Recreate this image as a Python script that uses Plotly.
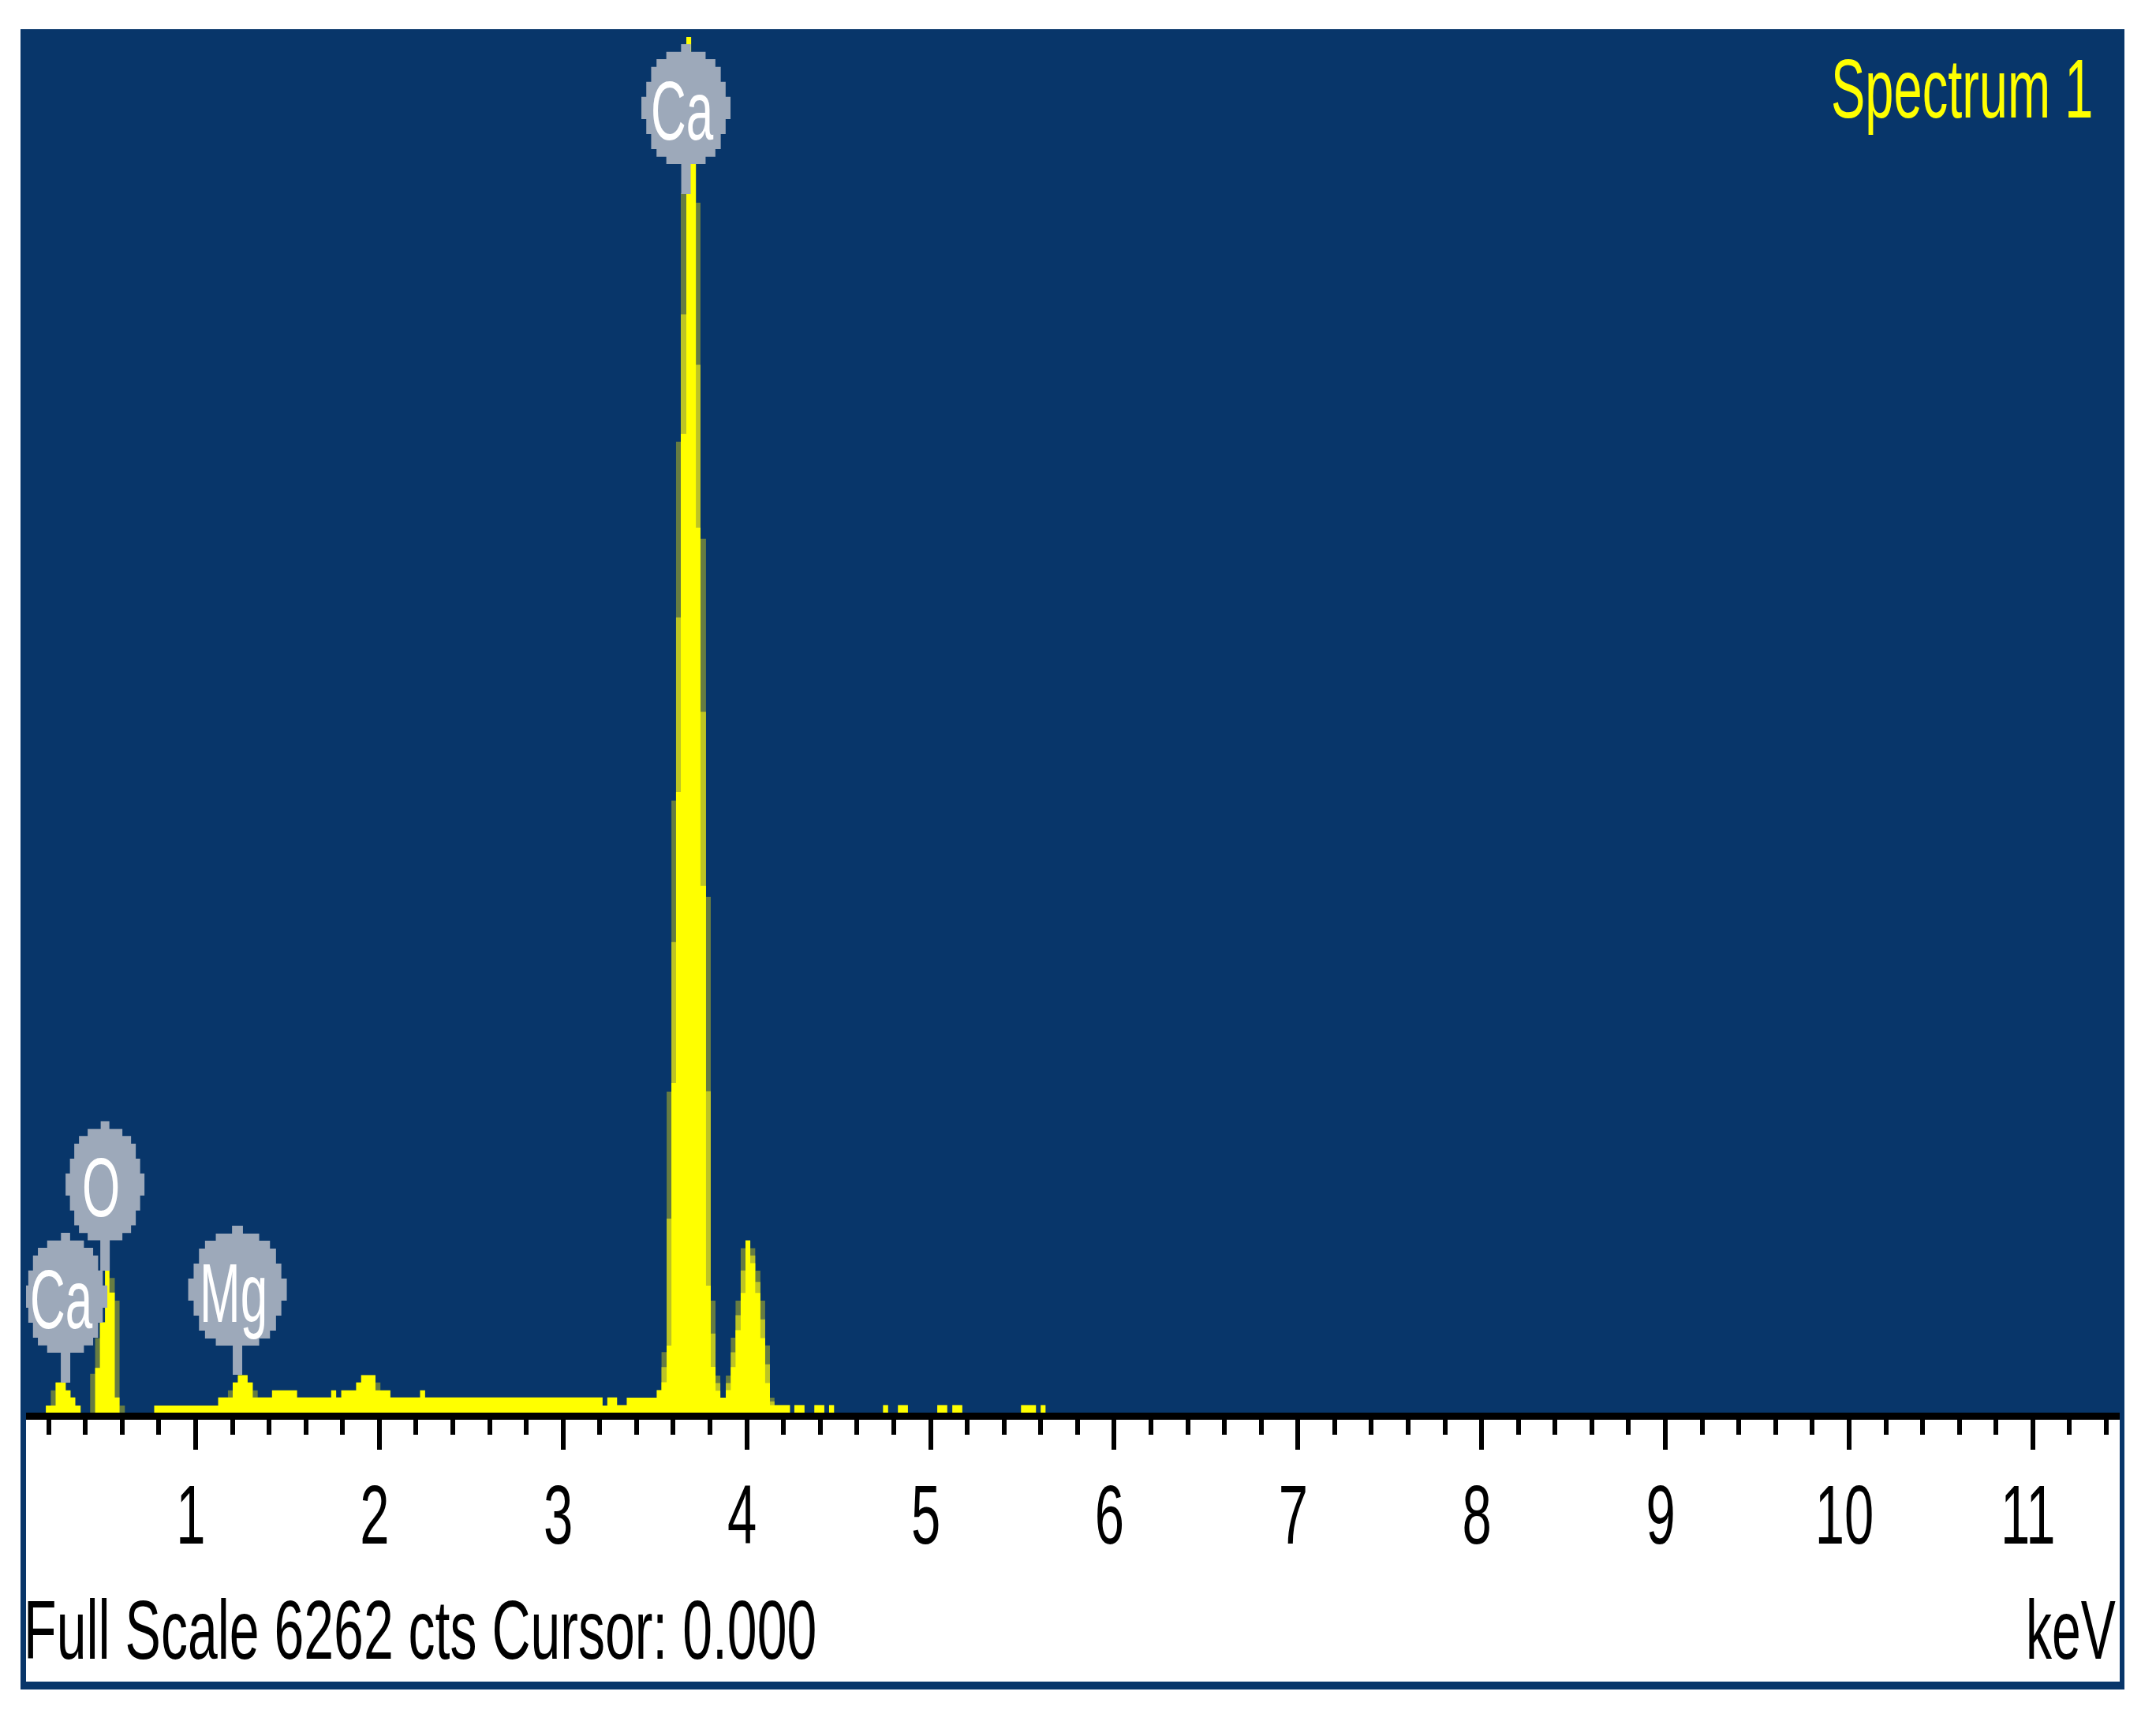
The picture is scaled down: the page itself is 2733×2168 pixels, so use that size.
import plotly.graph_objects as go

# spectrum, left edge of each channel step
kev_left = [0.185, 0.212, 0.238, 0.293, 0.319, 0.345, 0.374, 0.426, 0.453, 0.479,
            0.507, 0.531, 0.560, 0.586, 0.615, 0.775, 1.123, 1.176, 1.202, 1.230,
            1.283, 1.311, 1.338, 1.416, 1.552, 1.738, 1.765, 1.793, 1.874, 1.901,
            1.979, 2.006, 2.060, 2.222, 2.249, 3.215, 3.241, 3.294, 3.347, 3.510,
            3.536, 3.564, 3.590, 3.615, 3.641, 3.671, 3.697, 3.723, 3.748, 3.778,
            3.804, 3.830, 3.856, 3.886, 3.913, 3.939, 3.967, 3.993, 4.019, 4.046,
            4.074, 4.100, 4.126, 4.151, 4.235, 4.259, 4.314, 4.368, 4.422, 4.448,
            4.475, 4.742, 4.769, 4.823, 4.877, 5.037, 5.091, 5.119, 5.173, 5.493,
            5.574, 5.600, 5.626]
cts = [32, 32, 137, 101, 69, 32, 0, 0, 204, 411,
       646, 547, 69, 0, 0, 32, 69, 69, 137, 171,
       137, 69, 69, 101, 69, 101, 69, 101, 137, 171,
       101, 101, 69, 101, 69, 32, 69, 34, 68, 102,
       138, 305, 1501, 2826, 4456, 6262, 5684, 4029, 2399, 578,
       208, 100, 68, 102, 207, 375, 545, 784, 680, 545,
       339, 135, 34, 34, 0, 34, 0, 34, 0, 34,
       0, 34, 0, 34, 0, 34, 0, 34, 0, 34,
       0, 34, 0]
# the dimmer edge pixels around the peaks
cts_edge = [32, 101, 137, 101, 69, 32, 0, 177, 339, 411,
            646, 613, 510, 32, 0, 32, 69, 101, 137, 171,
            137, 101, 69, 101, 69, 101, 69, 101, 137, 171,
            137, 101, 69, 101, 69, 32, 69, 34, 68, 102,
            276, 1461, 2786, 4420, 5551, 6262, 5684, 5508, 3978, 2348,
            510, 169, 68, 169, 341, 510, 749, 784, 749, 646,
            510, 306, 68, 34, 0, 34, 0, 34, 0, 34,
            0, 34, 0, 34, 0, 34, 0, 34, 0, 34,
            0, 34, 0]
# where those edge pixels turn brighter, Ca K peaks only
kev_bright = [3.536, 3.564, 3.590, 3.615, 3.641, 3.671, 3.697, 3.723, 3.748, 3.778,
              3.804, 3.830, 3.856, 3.886, 3.913, 3.939, 3.967, 3.993, 4.019, 4.046,
              4.074, 4.100, 4.126, 4.151]
cts_bright = [207, 883, 2143, 3620, 5000, 6262, 5684, 4770, 3190, 1463,
              360, 135, 68, 135, 275, 443, 647, 784, 715, 595,
              425, 220, 51, 34]

label_names = ['O', 'Ca', 'Mg', 'Ca']
label_kev = [0.507, 0.292, 1.228, 3.669]
label_cts = [1056, 546, 578, 5957]
label_stem_cts = [646, 136, 172, 5548]
label_w = [100, 106, 125, 113]
label_h = [151, 152, 152, 152]

tick_vals = [1, 2, 3, 4, 5, 6, 7, 8, 9, 10, 11]

NAVY = '#08366A'
YELLOW = '#FFFF00'
EDGE = '#667C42'
BRIGHT = '#BDC424'
GREY = '#9DA9BA'
FONT = 'Liberation Sans'

# page pixels of the plot box, the page has an 8px body margin
L, R, T, B = 33, 2687, 37, 1791

# blocky outline of a peak label, top to bottom: (row bottom, half width) as fractions
BLOB_ROWS = [(0.87, 0.11), (0.75, 0.44), (0.62, 0.66), (0.37, 0.78), (0.12, 0.89),
             (-0.25, 1.0), (-0.5, 0.89), (-0.75, 0.78), (-0.88, 0.66), (-1.0, 0.44)]


def px(x):
    return (x - L) / (R - L)


def py(y):
    return 1 - (y - T) / (B - T)


def blob_path(w, h):
    right, left = [], []
    top = 1.0
    for bottom, half in BLOB_ROWS:
        right += [(half * w / 2, top * h / 2), (half * w / 2, bottom * h / 2)]
        left += [(-half * w / 2, top * h / 2), (-half * w / 2, bottom * h / 2)]
        top = bottom
    pts = right + left[::-1]
    return 'M' + ' L'.join('%.1f %.1f' % p for p in pts) + ' Z'


fig = go.Figure()
fig.add_scatter(x=kev_left, y=cts_edge, mode='lines', fill='tozeroy', fillcolor=EDGE,
                line=dict(width=0, shape='hv', color=EDGE))
fig.add_scatter(x=kev_bright, y=cts_bright, mode='lines', fill='tozeroy', fillcolor=BRIGHT,
                line=dict(width=0, shape='hv', color=BRIGHT))
fig.add_scatter(x=kev_left, y=cts, mode='lines', fill='tozeroy', fillcolor=YELLOW,
                line=dict(width=0, shape='hv', color=YELLOW))

# blue frame with the white scale panel inside it
shapes = [
    dict(type='rect', xref='paper', yref='paper', layer='below', line_width=0, fillcolor=NAVY,
         x0=px(26), x1=px(2693), y0=py(2142), y1=py(37)),
    dict(type='rect', xref='paper', yref='paper', layer='below', line_width=0, fillcolor='white',
         x0=px(33), x1=px(2687), y0=py(2132), y1=py(1795)),
]
annotations = []
for name, k, c, stem, w, h in zip(label_names, label_kev, label_cts, label_stem_cts, label_w, label_h):
    shapes.append(dict(type='rect', xref='x', yref='y', xsizemode='pixel', xanchor=k,
                       x0=-6, x1=6, y0=stem, y1=c, fillcolor=GREY, line_width=0))
    shapes.append(dict(type='path', xref='x', yref='y', xsizemode='pixel', ysizemode='pixel',
                       xanchor=k, yanchor=c, path=blob_path(w, h), fillcolor=GREY, line_width=0))
    annotations.append(dict(x=k, y=c, xref='x', yref='y', xanchor='center', yanchor='middle',
                            text=name, showarrow=False, xshift=-5, yshift=-9,
                            font=dict(family=FONT, size=62, color='white')))

annotations += [
    dict(x=px(2487), y=py(113), xref='paper', yref='paper', xanchor='center', yanchor='middle',
         text='Spectrum 1', showarrow=False, font=dict(family=FONT, size=65, color=YELLOW)),
    dict(x=px(28), y=py(2066), xref='paper', yref='paper', xanchor='left', yanchor='middle',
         text='Full Scale 6262 cts Cursor: 0.000', showarrow=False,
         font=dict(family=FONT, size=68, color='black')),
    dict(x=px(2684), y=py(2066), xref='paper', yref='paper', xanchor='right', yanchor='middle',
         text='keV', showarrow=False, font=dict(family=FONT, size=66, color='black')),
]

fig.update_layout(
    width=2717, height=2152,
    margin=dict(l=L - 8, r=2717 - (R - 8), t=T - 8, b=2152 - (B - 8), autoexpand=False),
    paper_bgcolor='white', plot_bgcolor=NAVY, showlegend=False,
    shapes=shapes, annotations=annotations,
)
fig.update_xaxes(range=[0.077, 11.473], tickvals=tick_vals, showgrid=False, zeroline=False,
                 showline=True, linecolor='black', linewidth=9,
                 ticks='outside', ticklen=38, tickwidth=6, tickcolor='black',
                 ticklabelstandoff=25, ticklabelshift=-6,
                 tickfont=dict(family=FONT, size=67, color='black'),
                 minor=dict(tick0=0, dtick=0.2, ticks='outside', ticklen=19, tickwidth=6,
                            tickcolor='black', showgrid=False))
fig.update_yaxes(range=[0, 6298], visible=False, fixedrange=True)

# the instrument font is tall and narrow: stretch each text upright to 76px capitals
stretch_text = """
document.querySelectorAll('.xtick text, .annotation-text').forEach(function (t) {
    var size = parseFloat(t.style.fontSize);
    var s = 76 / (0.72 * size);
    var b = t.getBBox();
    var cy = b.y + b.height / 2;
    var tr = t.getAttribute('transform') || '';
    t.setAttribute('transform', tr + ' translate(0 ' + cy + ') scale(1 ' + s + ') translate(0 ' + (-cy) + ')');
});
"""

fig.write_html("out.html", post_script=stretch_text)
